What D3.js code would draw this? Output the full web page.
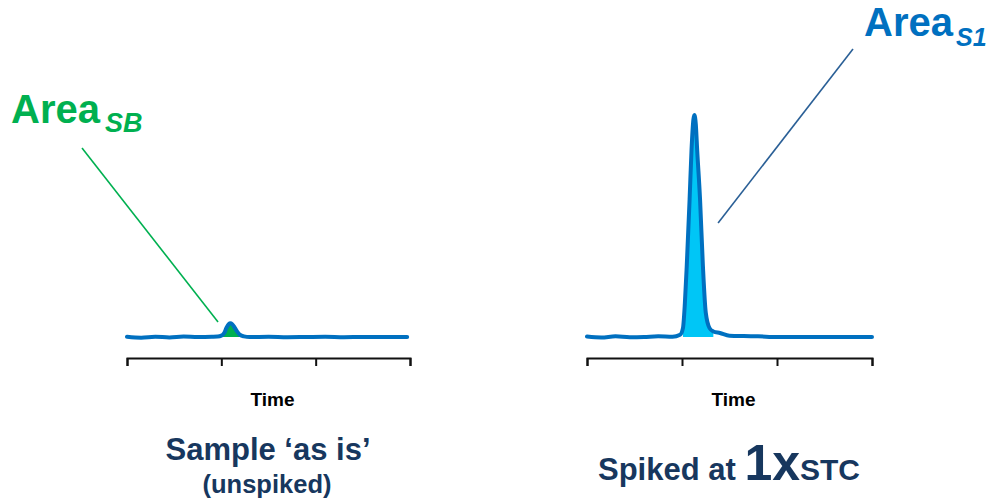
<!DOCTYPE html>
<html>
<head>
<meta charset="utf-8">
<script src="https://cdn.jsdelivr.net/npm/d3@7"></script>
<style>
  html, body { margin: 0; padding: 0; background: #fff; }
  svg { display: block; font-family: "Liberation Sans", Arial, Helvetica, sans-serif; }
</style>
</head>
<body>
<svg id="chart" width="995" height="502"></svg>
<script>
// Time axis ticks (unlabelled)
const timeTicks = [0, 10, 20, 30];

// Unspiked sample trace: time vs detector signal (relative units)
const blankTime   = [0, 1.5, 3, 4.5, 6, 7.5, 9, 9.6, 10.0, 10.3, 10.55, 10.8, 10.95, 11.15, 11.4, 11.7, 12.0, 12.4, 13, 15, 17, 19, 21, 23, 25, 27, 29.7];
const blankSignal = [0.1, -0.3, 0.1, -0.2, 0.2, 0.0, 0.1, 0.2, 0.6, 1.8, 4.2, 5.9, 6.2, 5.8, 4.3, 2.3, 0.9, 0.3, 0.0, 0.1, -0.1, 0.0, 0.1, -0.1, 0.0, 0.0, 0.0];

// Spiked (1x STC) trace
const spikeTime   = [0, 1.5, 3, 4.5, 6, 7.5, 9, 9.8, 10.1, 10.3, 10.5, 10.8, 11.0, 11.2, 11.3, 11.45, 11.6, 11.9, 12.2, 12.5, 12.9, 13.3, 14.0, 15.0, 16.5, 18, 20, 22, 24, 26, 28, 30];
const spikeSignal = [0.2, -0.2, 0.3, -0.1, 0.0, 0.3, 0.1, 1.0, 4, 15, 32, 62, 84, 98, 100, 96, 84, 62, 32, 11, 4, 2.5, 1.8, 0.6, 0.4, 0.3, 0.0, 0.0, 0.0, 0.0, 0.0, 0.0];

// Integrated peak windows (time)
const blankWindow = [10.0, 12.2];
const spikeWindow = [10.0, 13.3];

// Leader-line endpoints in data units [time, signal]
const blankLeader = [[-4.77, 85.1], [9.65, 6.8]];
const spikeLeader = [[28.0, 129.7], [13.8, 51.4]];

const svg = d3.select("#chart");

const y = d3.scaleLinear().domain([0, 100]).range([337, 115]);

const panels = [
  { time: blankTime, signal: blankSignal, window: blankWindow, range: [127, 410],
    fill: "#00B050", leader: blankLeader, leaderColor: "#00B050" },
  { time: spikeTime, signal: spikeSignal, window: spikeWindow, range: [587, 872],
    fill: "#00C6F6", leader: spikeLeader, leaderColor: "#2A5F96" }
];

panels.forEach(p => {
  const x = d3.scaleLinear().domain([0, 30]).range(p.range);
  const pts = p.time.map((t, i) => ({ t, v: p.signal[i] }));
  const g = svg.append("g");

  // leader line
  g.append("line")
    .attr("x1", x(p.leader[0][0])).attr("y1", y(p.leader[0][1]))
    .attr("x2", x(p.leader[1][0])).attr("y2", y(p.leader[1][1]))
    .attr("stroke", p.leaderColor).attr("stroke-width", 1.6);

  // peak area
  const area = d3.area()
    .x(d => x(d.t)).y0(y(0)).y1(d => y(Math.max(0, d.v)))
    .curve(d3.curveMonotoneX);
  g.append("path")
    .datum(pts.filter(d => d.t >= p.window[0] && d.t <= p.window[1]))
    .attr("d", area)
    .attr("fill", p.fill);

  // chromatogram trace
  const line = d3.line().x(d => x(d.t)).y(d => y(d.v)).curve(d3.curveMonotoneX);
  g.append("path")
    .datum(pts)
    .attr("d", line)
    .attr("fill", "none")
    .attr("stroke", "#0070C0")
    .attr("stroke-width", 4)
    .attr("stroke-linejoin", "round")
    .attr("stroke-linecap", "round");

  // time axis
  const axis = g.append("g")
    .attr("transform", "translate(0,358)")
    .call(d3.axisBottom(x).tickValues(timeTicks).tickFormat("").tickSize(8).tickSizeOuter(8));
  axis.select(".domain").attr("stroke", "#111").attr("stroke-width", 2);
  axis.selectAll(".tick line").attr("stroke", "#111").attr("stroke-width", 2);

  g.append("text")
    .attr("x", (p.range[0] + p.range[1]) / 2 + 4)
    .attr("y", 406)
    .attr("text-anchor", "middle")
    .attr("font-size", 19)
    .attr("font-weight", "bold")
    .attr("fill", "#000")
    .text("Time");
});

// peak area labels
const lblSB = svg.append("text")
  .attr("x", 11).attr("y", 123)
  .attr("fill", "#00B050").attr("font-weight", "bold").attr("font-size", 40);
lblSB.append("tspan").text("Area");
lblSB.append("tspan").attr("dx", 5).attr("dy", 9).attr("font-size", 27).attr("font-style", "italic").text("SB");

const lblS1 = svg.append("text")
  .attr("x", 864).attr("y", 36)
  .attr("fill", "#0070C0").attr("font-weight", "bold").attr("font-size", 40);
lblS1.append("tspan").text("Area");
lblS1.append("tspan").attr("dx", 3).attr("dy", 10).attr("font-size", 25).attr("font-style", "italic").text("S1");

// panel captions
const navy = "#17375E";
svg.append("text")
  .attr("x", 268).attr("y", 460).attr("text-anchor", "middle")
  .attr("font-size", 31).attr("font-weight", "bold").attr("fill", navy)
  .text("Sample \u2018as is\u2019");
svg.append("text")
  .attr("x", 267).attr("y", 493).attr("text-anchor", "middle")
  .attr("font-size", 25.5).attr("font-weight", "bold").attr("fill", navy)
  .text("(unspiked)");

const cap = svg.append("text")
  .attr("x", 729).attr("y", 480).attr("text-anchor", "middle")
  .attr("font-weight", "bold").attr("fill", navy);
cap.append("tspan").attr("font-size", 31).text("Spiked at ");
cap.append("tspan").attr("font-size", 50).text("1x");
cap.append("tspan").attr("font-size", 30).text("STC");
</script>
</body>
</html>
